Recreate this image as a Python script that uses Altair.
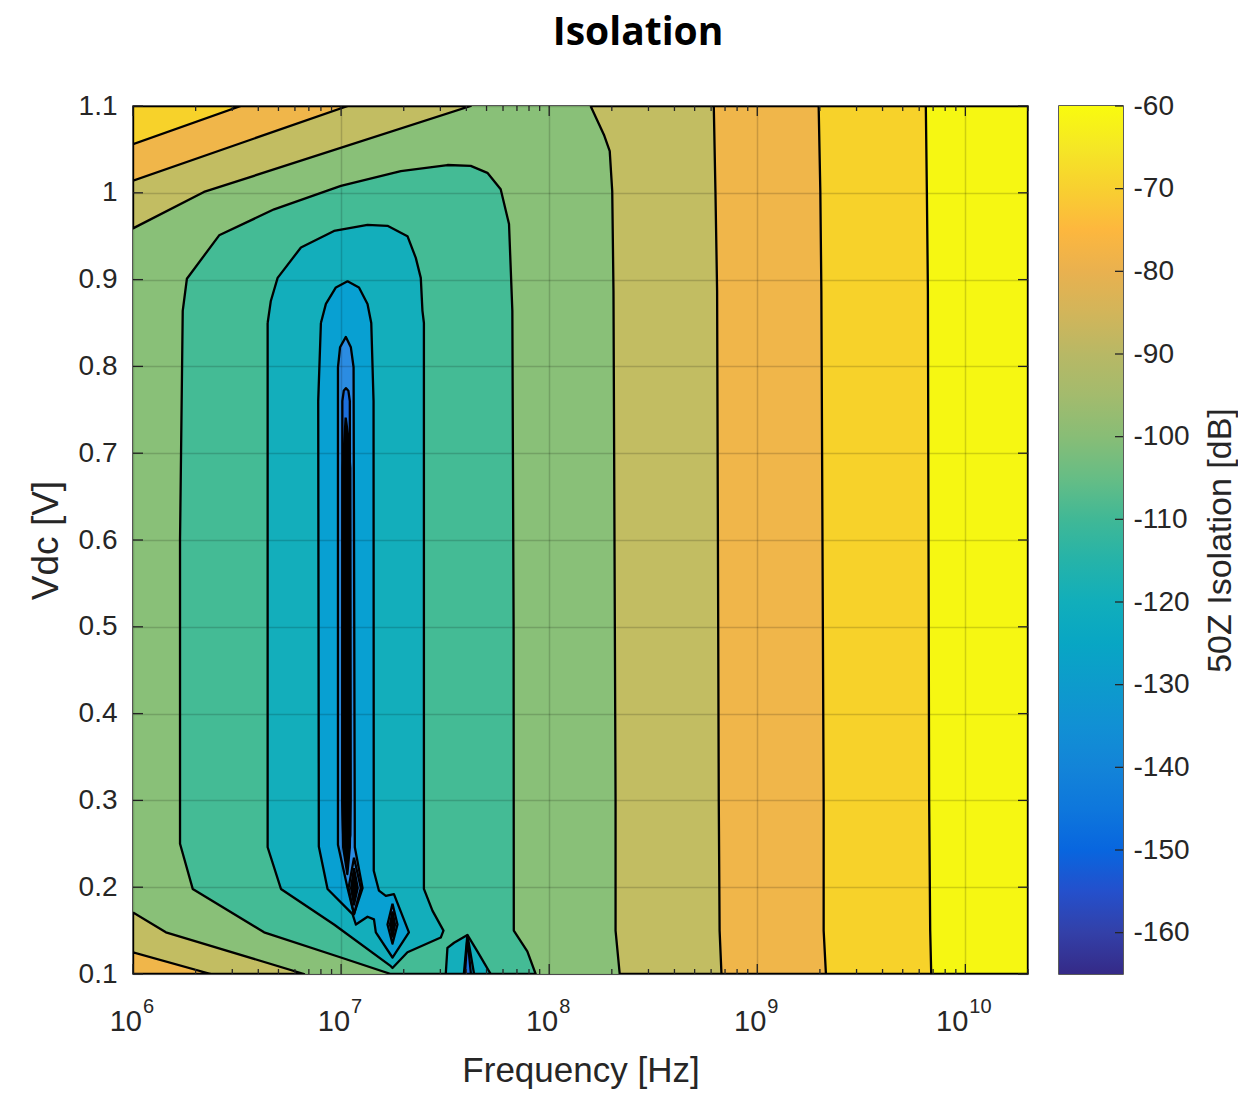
import altair as alt
import pandas as pd

# ---------------- axes -----------------
F_MIN, F_MAX = 1e6, 2e10
V_MIN, V_MAX = 0.1, 1.1
X_DECADES = [6, 7, 8, 9, 10]
X_MINOR_MULT = [2, 3, 4, 5, 6, 7, 8, 9]
Y_TICKS = [0.1, 0.2, 0.3, 0.4, 0.5, 0.6, 0.7, 0.8, 0.9, 1.0, 1.1]
CB_TICKS = [-160, -150, -140, -130, -120, -110, -100, -90, -80, -70, -60]
CB_RANGE = [-165, -60]

# ---------------- band fill colours (parula) ------------------------------------
BAND_LEVELS = [-60, -70, -80, -90, -100, -110, -120, -130, -140, -150, -160]
BAND_COLORS = ["#f6f712", "#f7d22a", "#f0b64a", "#c2bd62", "#89c078", "#44bb95",
               "#13aebb", "#08a0d2", "#2b8ce2", "#1d6fdc", "#000000"]

# colour bar gradient
CB_STOP_VALUES = [-165, -160, -155, -150, -145, -140, -135, -130, -125, -120, -115,
                  -110, -105, -100, -95, -90, -85, -80, -75, -70, -65, -60]
CB_STOP_COLORS = ["#352a87", "#3340a8", "#2450cc", "#0866df", "#0e77dc", "#1384d8",
                  "#1190d4", "#0d9bcc", "#08a6c4", "#11aebb", "#25b3a9", "#40b896",
                  "#66bd85", "#88bd76", "#a3bb6d", "#b8b865", "#d2b55a", "#e9b14f",
                  "#fdb73e", "#f8d030", "#f5e725", "#f9fb0e"]

# ---------------- contour regions: log10(f / Hz) and Vdc [V] -----------------
BG_F = [1e6, 2e10]
BG_V = [0.1, 1.1]

OLIVE_RIGHT_LF = [8.199, 8.263, 8.291, 8.303, 8.309, 8.319, 8.319, 8.339, 10.301, 10.301, 8.199]
OLIVE_RIGHT_V = [1.1, 1.067, 1.048, 1.002, 0.887, 0.299, 0.150, 0.1, 0.1, 1.1, 1.1]
OLIVE_TL_LF = [6.0, 7.623, 6.341, 6.0, 6.0]
OLIVE_TL_V = [1.1, 1.1, 1.001, 0.959, 1.1]
OLIVE_BL_LF = [6.0, 6.158, 6.822, 6.0, 6.0]
OLIVE_BL_V = [0.171, 0.148, 0.1, 0.1, 0.171]

ORANGE_RIGHT_LF = [8.791, 8.799, 8.807, 8.815, 8.819, 8.828, 10.301, 10.301, 8.791]
ORANGE_RIGHT_V = [1.1, 1.002, 0.887, 0.299, 0.150, 0.1, 0.1, 1.1, 1.1]
ORANGE_TL_LF = [6.0, 7.032, 6.0, 6.0]
ORANGE_TL_V = [1.1, 1.1, 1.014, 1.1]
ORANGE_BL_LF = [6.0, 6.374, 6.0, 6.0]
ORANGE_BL_V = [0.125, 0.1, 0.1, 0.125]

GOLD_RIGHT_LF = [9.295, 9.303, 9.308, 9.319, 9.319, 9.330, 10.301, 10.301, 9.295]
GOLD_RIGHT_V = [1.1, 1.002, 0.887, 0.299, 0.150, 0.1, 0.1, 1.1, 1.1]
GOLD_TL_LF = [6.0, 6.518, 6.0, 6.0]
GOLD_TL_V = [1.1, 1.1, 1.056, 1.1]

YELLOW_RIGHT_LF = [9.810, 9.815, 9.820, 9.826, 9.831, 9.836, 10.301, 10.301, 9.810]
YELLOW_RIGHT_V = [1.1, 1.002, 0.887, 0.299, 0.150, 0.1, 0.1, 1.1, 1.1]

TEALGREEN_LF = [7.239, 6.999, 6.630, 6.287, 6.226, 6.226, 6.239, 6.259, 6.414, 6.678, 6.999,
                7.287, 7.511, 7.623, 7.703, 7.767, 7.807, 7.823, 7.829, 7.830, 7.895, 7.935, 7.239]
TEALGREEN_V = [0.1, 0.119, 0.148, 0.198, 0.250, 0.600, 0.864, 0.901, 0.951, 0.981, 1.008,
               1.025, 1.032, 1.031, 1.023, 1.004, 0.964, 0.864, 0.500, 0.150, 0.126, 0.1, 0.1]

TEAL_LF = [6.647, 6.647, 6.711, 6.966, 7.239, 7.247, 7.319, 7.479, 7.492, 7.439, 7.398, 7.398,
           7.391, 7.383, 7.359, 7.319, 7.223, 7.127, 6.966, 6.807, 6.695, 6.662, 6.647]
TEAL_V = [0.850, 0.246, 0.198, 0.157, 0.109, 0.107, 0.125, 0.142, 0.150, 0.173, 0.198, 0.850,
          0.864, 0.902, 0.925, 0.950, 0.962, 0.963, 0.956, 0.937, 0.902, 0.875, 0.850]
TEAL_ISLAND_LF = [7.503, 7.511, 7.543, 7.607, 7.655, 7.719, 7.503]
TEAL_ISLAND_V = [0.1, 0.130, 0.136, 0.145, 0.126, 0.1, 0.1]

BLUE_LF = [6.903, 6.927, 6.975, 7.031, 7.086, 7.127, 7.145, 7.156, 7.157, 7.182, 7.215, 7.254,
           7.326, 7.247, 7.167, 7.158, 7.127, 7.071, 7.055, 6.935, 6.893, 6.890, 6.903]
BLUE_V = [0.850, 0.872, 0.891, 0.898, 0.891, 0.872, 0.850, 0.760, 0.219, 0.196, 0.190, 0.192,
          0.148, 0.119, 0.148, 0.163, 0.166, 0.157, 0.169, 0.198, 0.247, 0.760, 0.850]
BLUE_ISLAND_LF = [7.607, 7.639, 7.590, 7.607]
BLUE_ISLAND_V = [0.145, 0.1, 0.1, 0.145]

BRIGHT_LF = [6.985, 6.995, 7.023, 7.047, 7.060, 7.066, 7.103, 7.062, 7.031, 6.985, 6.985]
BRIGHT_V = [0.799, 0.822, 0.834, 0.822, 0.799, 0.246, 0.199, 0.169, 0.199, 0.249, 0.799]
DIAMOND_A_LF = [7.247, 7.271, 7.247, 7.223, 7.247]
DIAMOND_A_V = [0.181, 0.157, 0.135, 0.157, 0.181]
ISLAND_INNER_LF = [7.607, 7.624, 7.595, 7.607]
ISLAND_INNER_V = [0.142, 0.1, 0.1, 0.142]

DARK_LF = [7.006, 7.013, 7.023, 7.035, 7.042, 7.044, 7.030, 7.010, 7.006, 7.006]
DARK_V = [0.760, 0.772, 0.775, 0.772, 0.760, 0.260, 0.235, 0.260, 0.300, 0.760]
DIAMOND_B_LF = [7.062, 7.095, 7.062, 7.036, 7.062]
DIAMOND_B_V = [0.234, 0.199, 0.169, 0.199, 0.234]
DIAMOND_A_IN_LF = [7.247, 7.259, 7.247, 7.235, 7.247]
DIAMOND_A_IN_V = [0.172, 0.157, 0.143, 0.157, 0.172]

CORE_LF = [7.022, 7.034, 7.044, 7.046, 7.042, 7.030, 7.010, 7.006, 7.008, 7.022]
CORE_V = [0.741, 0.720, 0.683, 0.300, 0.246, 0.215, 0.246, 0.300, 0.683, 0.741]
DIAMOND_B_IN_LF = [7.062, 7.080, 7.062, 7.048, 7.062]
DIAMOND_B_IN_V = [0.222, 0.199, 0.180, 0.199, 0.222]

# (paint stage, band level, log10 f, V)
REGIONS = [
    (1, -90, OLIVE_RIGHT_LF, OLIVE_RIGHT_V), (1, -90, OLIVE_TL_LF, OLIVE_TL_V),
    (1, -90, OLIVE_BL_LF, OLIVE_BL_V),
    (2, -80, ORANGE_RIGHT_LF, ORANGE_RIGHT_V), (2, -80, ORANGE_TL_LF, ORANGE_TL_V),
    (2, -80, ORANGE_BL_LF, ORANGE_BL_V),
    (3, -70, GOLD_RIGHT_LF, GOLD_RIGHT_V), (3, -70, GOLD_TL_LF, GOLD_TL_V),
    (4, -60, YELLOW_RIGHT_LF, YELLOW_RIGHT_V),
    (5, -110, TEALGREEN_LF, TEALGREEN_V),
    (6, -120, TEAL_LF, TEAL_V), (6, -120, TEAL_ISLAND_LF, TEAL_ISLAND_V),
    (7, -130, BLUE_LF, BLUE_V), (7, -130, BLUE_ISLAND_LF, BLUE_ISLAND_V),
    (8, -140, BRIGHT_LF, BRIGHT_V), (8, -140, DIAMOND_A_LF, DIAMOND_A_V),
    (8, -150, ISLAND_INNER_LF, ISLAND_INNER_V),
    (9, -150, DARK_LF, DARK_V), (9, -140, DIAMOND_B_LF, DIAMOND_B_V),
    (9, -160, DIAMOND_A_IN_LF, DIAMOND_A_IN_V),
    (10, -160, CORE_LF, CORE_V), (10, -160, DIAMOND_B_IN_LF, DIAMOND_B_IN_V),
]

W, H = 895, 868
CBW = 64
FONT = "Liberation Sans"
INK = "#262626"

rows = []
for rid, (stage, level, lfs, vs) in enumerate(REGIONS):
    for i, (lf, v) in enumerate(zip(lfs, vs)):
        rows.append({"rid": rid, "stage": stage, "level": level, "i": i, "f": 10 ** lf, "v": v})
poly_df = pd.DataFrame(rows)
bg_df = pd.DataFrame({"f": [BG_F[0]], "f2": [BG_F[1]], "v": [BG_V[0]], "v2": [BG_V[1]], "level": [-100]})

xs = alt.Scale(type="log", domain=[F_MIN, F_MAX], nice=False)
ys = alt.Scale(domain=[V_MIN, V_MAX], nice=False, zero=False)
fill_scale = alt.Scale(domain=BAND_LEVELS, range=BAND_COLORS)

x_axis = alt.Axis(values=[10 ** d for d in X_DECADES], labels=False, ticks=False, tickSize=0,
                  domain=False, grid=True, gridColor="#000000", gridOpacity=0.16, gridWidth=1.5,
                  zindex=1, title="Frequency [Hz]", titleFont=FONT, titleFontSize=35,
                  titleFontWeight="normal", titleColor=INK, titlePadding=79)
y_axis = alt.Axis(values=Y_TICKS, format="~g", ticks=False, tickSize=0, domain=False, grid=True,
                  gridColor="#000000", gridOpacity=0.16, gridWidth=1.5, zindex=1,
                  labelFont=FONT, labelFontSize=28, labelColor=INK, labelPadding=16,
                  title="Vdc [V]", titleFont=FONT, titleFontSize=37, titleFontWeight="normal",
                  titleColor=INK, titlePadding=13)

X = alt.X("f:Q", scale=xs, axis=x_axis)
Y = alt.Y("v:Q", scale=ys, axis=y_axis)

bg = alt.Chart(bg_df).mark_rect().encode(
    x=X, x2="f2:Q", y=Y, y2="v2:Q",
    fill=alt.Fill("level:O", scale=fill_scale, legend=None))

poly_base = alt.Chart(poly_df).mark_line(stroke="black", strokeWidth=2.3, clip=True,
                                         strokeJoin="round").encode(
    x=X, y=Y,
    fill=alt.Fill("level:O", scale=fill_scale, legend=None),
    detail="rid:N", order="i:Q")
stages = sorted(set(r[0] for r in REGIONS))
poly_layers = [poly_base.transform_filter(alt.datum.stage == s) for s in stages]

# ticks (inward, on all four sides)
major_df = pd.DataFrame({"f": [10 ** d for d in X_DECADES]})
minor_df = pd.DataFrame({"f": [m * 10 ** d for d in X_DECADES[:-1] for m in X_MINOR_MULT] + [2e10]})
yt_df = pd.DataFrame({"v": Y_TICKS})
tick_kw = dict(stroke=INK, strokeWidth=1.3)
ticks = [
    alt.Chart(major_df).mark_rule(**tick_kw).encode(x=X, y=alt.value(H), y2=alt.value(H - 10)),
    alt.Chart(major_df).mark_rule(**tick_kw).encode(x=X, y=alt.value(0), y2=alt.value(10)),
    alt.Chart(minor_df).mark_rule(**tick_kw).encode(x=X, y=alt.value(H), y2=alt.value(H - 5)),
    alt.Chart(minor_df).mark_rule(**tick_kw).encode(x=X, y=alt.value(0), y2=alt.value(5)),
    alt.Chart(yt_df).mark_rule(**tick_kw).encode(y=Y, x=alt.value(0), x2=alt.value(10)),
    alt.Chart(yt_df).mark_rule(**tick_kw).encode(y=Y, x=alt.value(W - 10), x2=alt.value(W)),
]

# x tick labels: 10 with superscript exponent
lab_df = pd.DataFrame({"f": [10 ** d for d in X_DECADES], "base": ["10"] * len(X_DECADES),
                       "exp": [str(d) for d in X_DECADES]})
one = lab_df[lab_df["exp"].str.len() == 1]
two = lab_df[lab_df["exp"].str.len() == 2]
labels = []
for sub, dx in ((one, 9), (two, 3)):
    labels.append(alt.Chart(sub).mark_text(font=FONT, fontSize=29, color=INK, align="right",
                                           baseline="alphabetic", dx=dx).encode(
        x=X, y=alt.value(H + 57), text="base:N"))
    labels.append(alt.Chart(sub).mark_text(font=FONT, fontSize=20, color=INK, align="left",
                                           baseline="alphabetic", dx=dx + 1).encode(
        x=X, y=alt.value(H + 39), text="exp:N"))

main = alt.layer(bg, *poly_layers, *ticks, *labels).properties(width=W, height=H)

# ---------------- colour bar -----------------
lo, hi = CB_RANGE
grad = alt.Gradient(
    gradient="linear", x1=0, x2=0, y1=1, y2=0,
    stops=[alt.GradientStop(color=c, offset=(v - lo) / (hi - lo))
           for v, c in zip(CB_STOP_VALUES, CB_STOP_COLORS)])
cbs = alt.Scale(domain=CB_RANGE, nice=False, zero=False)
cb_axis = alt.Axis(orient="right", values=CB_TICKS, labelExpr="'' + datum.value",
                   ticks=False, tickSize=0, domain=False,
                   grid=False, labelFont=FONT, labelFontSize=28, labelColor=INK,
                   labelPadding=10, title="50Z Isolation [dB]", titleFont=FONT,
                   titleFontSize=34, titleFontWeight="normal", titleColor=INK,
                   titleAngle=270, titleBaseline="top", titlePadding=14)
CBY = alt.Y("lo:Q", scale=cbs, axis=cb_axis)
cb_df = pd.DataFrame({"lo": [lo], "hi": [hi]})
cbt_df = pd.DataFrame({"lo": CB_TICKS})
cbar_rect = alt.Chart(cb_df).mark_rect(fill=grad).encode(
    y=CBY, y2="hi:Q", x=alt.value(0), x2=alt.value(CBW))
cbar_ticks = alt.Chart(cbt_df).mark_rule(**tick_kw).encode(
    y=CBY, x=alt.value(CBW - 8), x2=alt.value(CBW))
cbar = alt.layer(cbar_rect, cbar_ticks).properties(width=CBW, height=H)

chart = alt.hconcat(main, cbar, spacing=28).properties(
    title=alt.TitleParams("Isolation", font="Open Sans", fontSize=39, fontWeight="bold",
                          color="black", anchor="middle", offset=38, dx=6),
    padding={"left": 18, "top": 6, "right": 0, "bottom": 0},
).configure_view(stroke=INK, strokeWidth=1.5)

chart.save("out.html", embed_options={"renderer": "svg", "actions": False})
